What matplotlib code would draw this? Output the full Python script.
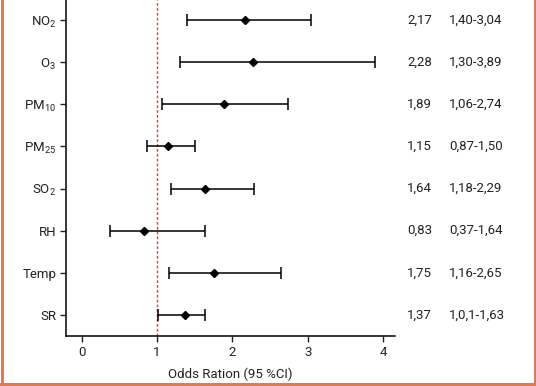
import numpy as np
import matplotlib.pyplot as plt
from matplotlib.lines import Line2D
import matplotlib.transforms as mtransforms

plt.rcParams['font.family'] = ['Roboto', 'DejaVu Sans']
plt.rcParams['mathtext.default'] = 'regular'

# data, top to bottom
labels = [r'NO$_2$', r'O$_3$', r'PM$_{10}$', r'PM$_{25}$', r'SO$_2$', 'RH', 'Temp', 'SR']
odds = [2.17, 2.28, 1.89, 1.15, 1.64, 0.83, 1.75, 1.37]
ci_low = [1.40, 1.30, 1.06, 0.87, 1.18, 0.37, 1.16, 1.01]
ci_high = [3.04, 3.89, 2.74, 1.50, 2.29, 1.64, 2.65, 1.63]
or_text = ['2,17', '2,28', '1,89', '1,15', '1,64', '0,83', '1,75', '1,37']
ci_text = ['1,40-3,04', '1,30-3,89', '1,06-2,74', '0,87-1,50',
           '1,18-2,29', '0,37-1,64', '1,16-2,65', '1,0,1-1,63']
xticks = [0, 1, 2, 3, 4]

W, H = 536, 386
fig = plt.figure(figsize=(W / 100, H / 100), dpi=100)
ax = fig.add_axes([66 / W, (H - 336) / H, (395 - 66) / W, 336 / H])

n = len(labels)
y = np.arange(n)[::-1]
odds = np.array(odds)
err = np.array([odds - np.array(ci_low), np.array(ci_high) - odds])

ax.axvline(1, color='#ee3b35', lw=1.0, ls=(0, (2, 1.5)), zorder=1)
ax.errorbar(odds, y, xerr=err, fmt='D', color='black', ms=4.5,
            elinewidth=1.1, capsize=4, capthick=1.1, zorder=3)

ax.set_xlim(-0.21, 4.16)
ax.set_ylim(-0.5, n - 1 + 0.475)
ax.set_yticks(y)
ax.set_yticklabels(labels)
ax.set_xticks(xticks)
ax.set_xlabel('Odds Ration (95 %CI)', fontsize=9.5, color='#222222', labelpad=6)

for s in ['top', 'right']:
    ax.spines[s].set_visible(False)
for s in ['left', 'bottom']:
    ax.spines[s].set_linewidth(1.1)
ax.tick_params(axis='both', length=4, width=1, labelsize=9.5, colors='#222222')
ax.tick_params(axis='y', pad=3)

# table columns on the right
trans = mtransforms.blended_transform_factory(fig.transFigure, ax.transData)
for yi, a, b in zip(y, or_text, ci_text):
    ax.text(407 / W, yi, a, transform=trans, ha='left', va='center',
            fontsize=9.5, color='#222222', clip_on=False)
    ax.text(449 / W, yi, b, transform=trans, ha='left', va='center',
            fontsize=9.5, color='#222222', clip_on=False)

# orange frame (left, right, bottom)
border = '#e07a52'
lw = 2.2
fig.add_artist(Line2D([1.5 / W, 1.5 / W], [0, 1], color=border, lw=lw, transform=fig.transFigure))
fig.add_artist(Line2D([1 - 1.5 / W, 1 - 1.5 / W], [0, 1], color=border, lw=lw, transform=fig.transFigure))
fig.add_artist(Line2D([0, 1], [2 / H, 2 / H], color=border, lw=lw, transform=fig.transFigure))

fig.savefig('out.png', dpi=100)
